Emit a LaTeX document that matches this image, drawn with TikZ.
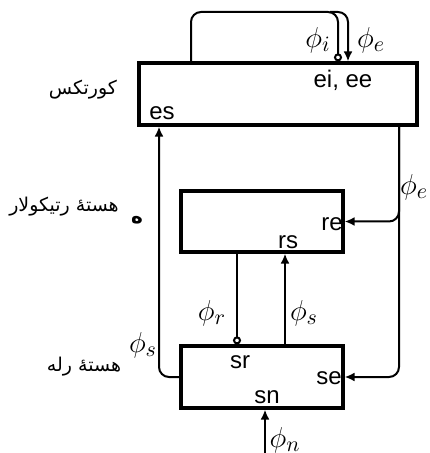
\documentclass[tikz,border=0pt]{standalone}
\usepackage{fontspec}
\setsansfont{Liberation Sans}
\newfontfamily\arabicfont[Script=Arabic]{DejaVu Sans}
\TeXXeTstate=1
\usepackage{tikz}
\usetikzlibrary{arrows.meta,positioning,calc}

\begin{document}
\begin{tikzpicture}[x=0.5pt,y=-0.5pt,>={Latex[length=5pt,width=4.5pt]},
    box/.style={draw,line width=1.6pt,inner sep=0pt},
    conn/.style={line width=1pt},
    port/.style={font=\sffamily\fontsize{12}{13}\selectfont,inner sep=0pt},
    flux/.style={font=\fontsize{15}{16}\selectfont,inner sep=0pt},
    fa/.style={font=\arabicfont\fontsize{9.5}{11}\selectfont,inner sep=0pt}]
  \useasboundingbox (0,0) rectangle (429,453);

  % blocks
  \node[box,minimum width=139pt,minimum height=31pt] (cortex) at (278,94) {};
  \node[box,minimum width=81pt,minimum height=30.5pt] (reticular) at (262,221.5) {};
  \node[box,minimum width=81pt,minimum height=31pt] (relay) at (262,377) {};
  \coordinate (input) at (265,453);

  % cortex self loop
  \draw[conn,rounded corners=5pt,-{Circle[open,length=4pt]}] (191,0 |- cortex.north) -- (191,12)
    -- (338,12) -- (338,0 |- cortex.north);
  \draw[conn,rounded corners=5pt,->] (330,12) -- (348,12) -- (348,0 |- cortex.north);

  % cortex to thalamus
  \draw[conn,rounded corners=5pt,->] (399,0 |- cortex.south) |- (reticular.east);
  \draw[conn,rounded corners=5pt,->] (399,0 |- cortex.south) |- (relay.east);

  % relay to cortex
  \draw[conn,rounded corners=5pt,->] (relay.west) -| (159,0 |- cortex.south);

  % between the nuclei
  \draw[conn,-{Circle[open,length=4pt]}] (237,0 |- reticular.south) -- (237,0 |- relay.north);
  \draw[conn,->] (285,0 |- relay.north) -- (285,0 |- reticular.south);
  \draw[conn,->] (input) -- (input |- relay.south);

  % ports
  \node[port] (eiee) at (343,80) {ei, ee};
  \node[port] (es) at (162,113) {es};
  \node[port] (re) at (332,224) {re};
  \node[port] (rs) at (288,242) {rs};
  \node[port] (sr) at (240,362) {sr};
  \node[port] (se) at (329,378) {se};
  \node[port] (sn) at (267,397) {sn};

  % fluxes
  \node[flux] (phii) at (318,40) {$\phi_i$};
  \node[flux] (phie) at (371,40) {$\phi_e$};
  \node[flux] (phiet) at (414,187) {$\phi_e$};
  \node[flux] (phir) at (212,313) {$\phi_r$};
  \node[flux] (phis) at (304,313) {$\phi_s$};
  \node[flux] (phisl) at (143,345) {$\phi_s$};
  \node[flux] (phin) at (285,440) {$\phi_n$};

  % names
  \node[fa] (ncortex) at (83,90) {\beginR کورتکس\endR};
  \node[fa] (nreticular) at (64,207) {\beginR هستهٔ رتیکولار\endR};
  \node[fa] (nrelay) at (84,367) {\beginR هستهٔ رله\endR};
  \node[fa,font=\arabicfont\bfseries\fontsize{10}{11}\selectfont] (mark) at (137,220) {\beginR ه\endR};
\end{tikzpicture}
\end{document}
